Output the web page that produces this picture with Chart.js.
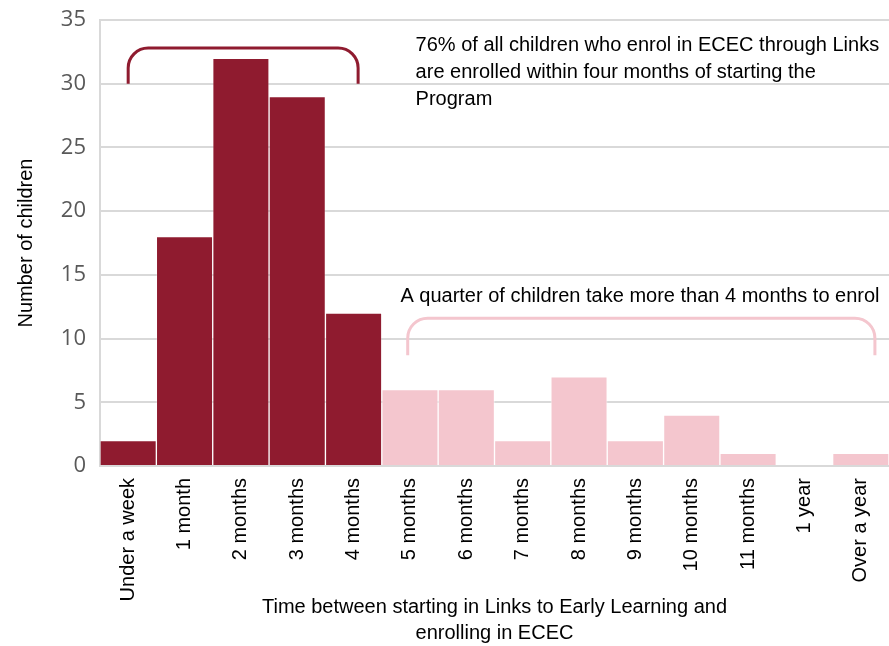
<!DOCTYPE html>
<html>
<head>
<meta charset="utf-8">
<script src="https://cdn.jsdelivr.net/npm/chart.js@4/dist/chart.umd.min.js"></script>
<style>
  html, body { margin: 0; padding: 0; background: #fff; }
  #wrap { width: 889px; height: 646px; }
</style>
</head>
<body>
<div id="wrap"><canvas id="barChart"></canvas></div>
<script>
const categories = ["Under a week", "1 month", "2 months", "3 months", "4 months", "5 months", "6 months",
    "7 months", "8 months", "9 months", "10 months", "11 months", "1 year", "Over a year"];
const children = [2, 18, 32, 29, 12, 6, 6, 2, 7, 2, 4, 1, 0, 1];
const yTicks = [0, 5, 10, 15, 20, 25, 30, 35];
const earlyCount = 5; // first five categories = within four months

const DARK = "#8f1b2f";
const PINK = "#f4c6ce";
const labelFont = "'Liberation Sans', Arial, sans-serif";

// brackets + notes, placed in data units (category index, value)
const brackets = [
    { from: 0.0, to: 4.08, low: 30, high: 32.8, color: DARK },
    { from: 4.96, to: 13.25, low: 8.7, high: 11.6, color: PINK }
];
const notes = [
    { at: 5.1, value: 33.0, lines: ["76% of all children who enrol in ECEC through Links",
        "are enrolled within four months of starting the", "Program"] },
    { at: 4.83, value: 13.3, lines: ["A quarter of children take more than 4 months to enrol"] }
];

const annotate = {
    id: "annotate",
    afterDatasetsDraw(chart) {
        const ctx = chart.ctx, x = chart.scales.x, y = chart.scales.y;
        const step = x.getPixelForValue(1) - x.getPixelForValue(0);
        const px = v => x.getPixelForValue(0) + v * step;
        ctx.save();
        brackets.forEach(b => {
            const x1 = px(b.from), x2 = px(b.to), y1 = y.getPixelForValue(b.low), y2 = y.getPixelForValue(b.high);
            const r = Math.min(20, (y1 - y2));
            ctx.beginPath();
            ctx.moveTo(x1, y1);
            ctx.arcTo(x1, y2, x1 + r, y2, r);
            ctx.lineTo(x2 - r, y2);
            ctx.arcTo(x2, y2, x2, y1, r);
            ctx.lineTo(x2, y1);
            ctx.strokeStyle = b.color;
            ctx.lineWidth = 3;
            ctx.stroke();
        });
        ctx.fillStyle = "#000";
        ctx.font = "20px " + labelFont;
        ctx.textBaseline = "middle";
        ctx.textAlign = "left";
        notes.forEach(n => {
            const y0 = y.getPixelForValue(n.value);
            n.lines.forEach((line, i) => ctx.fillText(line, px(n.at), y0 + i * 27));
        });
        ctx.restore();
    }
};

new Chart(document.getElementById("barChart"), {
    type: "bar",
    data: {
        labels: categories,
        datasets: [{
            data: children,
            backgroundColor: children.map((_, i) => i < earlyCount ? DARK : PINK),
            borderColor: children.map((_, i) => i < earlyCount ? "rgba(255,255,255,0.2)" : "rgba(255,255,255,0.5)"),
            borderWidth: 1,
            barPercentage: 1,
            categoryPercentage: 1
        }]
    },
    options: {
        responsive: true,
        maintainAspectRatio: false,
        animation: false,
        layout: { padding: { top: 20, right: 0, left: 10, bottom: 0 } },
        plugins: { legend: { display: false }, tooltip: { enabled: false } },
        scales: {
            x: {
                grid: { display: false },
                border: { color: "#d9d9d9", width: 2 },
                ticks: { color: "#000", font: { family: labelFont, size: 20 }, maxRotation: 90, minRotation: 90, padding: 4 },
                title: {
                    display: true,
                    text: ["Time between starting in Links to Early Learning and", "enrolling in ECEC"],
                    color: "#000",
                    font: { family: labelFont, size: 20, lineHeight: 1.3 },
                    padding: { top: 8, bottom: 0 }
                },
                afterFit(scale) {
                    scale.height = 180;
                    scale.paddingLeft = 0;
                    scale.paddingRight = 0;
                }
            },
            y: {
                min: 0,
                max: 35,
                afterBuildTicks(scale) { scale.ticks = yTicks.map(v => ({ value: v })); },
                grid: { color: "#d9d9d9", lineWidth: 2, drawTicks: false },
                border: { color: "#d9d9d9", width: 2 },
                ticks: { color: "#595959", font: { family: "'Open Sans', sans-serif", size: 22 }, padding: 14 },
                title: {
                    display: true,
                    text: "Number of children",
                    color: "#000",
                    font: { family: labelFont, size: 20 },
                    padding: { bottom: 10 }
                },
                afterFit(scale) {
                    scale.width = 90;
                    scale.paddingTop = 0;
                    scale.paddingBottom = 0;
                }
            }
        }
    },
    plugins: [annotate]
});
</script>
</body>
</html>
